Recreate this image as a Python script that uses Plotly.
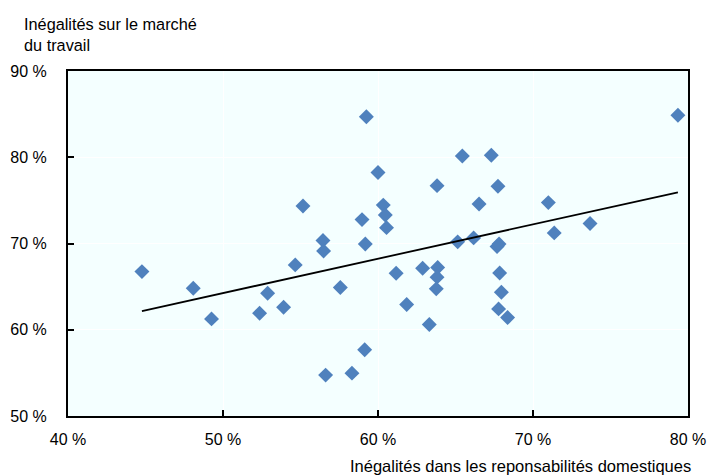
import numpy as np
import plotly.graph_objects as go

# Inégalités dans les responsabilités domestiques (%)
x_domestic = [44.77, 48.08, 49.26, 52.36, 52.88, 53.91, 54.66, 55.16, 56.45, 56.49,
              56.62, 57.57, 58.32, 58.97, 59.18, 59.25, 59.14, 60.00, 60.34, 60.47,
              60.55, 61.17, 61.85, 62.88, 63.31, 63.81, 63.85, 63.81, 63.76, 65.14,
              65.44, 66.17, 66.52, 67.31, 67.74, 67.68, 67.81, 67.85, 67.96, 67.78,
              68.36, 70.99, 71.37, 73.68, 79.35]
# Inégalités sur le marché du travail (%)
y_labour = [66.74, 64.82, 61.26, 61.92, 64.24, 62.62, 67.52, 74.36, 70.34, 69.14,
            54.74, 64.89, 54.97, 72.77, 69.95, 84.70, 57.67, 78.22, 74.45, 73.31,
            71.84, 66.54, 62.92, 67.14, 60.60, 76.71, 67.21, 66.10, 64.74, 70.19,
            80.15, 70.65, 74.59, 80.23, 76.64, 69.64, 69.95, 66.59, 64.36, 62.42,
            61.41, 74.74, 71.23, 72.31, 84.87]

x_ticks = [40, 50, 60, 70, 80]
y_ticks = [50, 60, 70, 80, 90]
x_ticklabels = ["40 %", "50 %", "60 %", "70 %", "80 %"]
y_ticklabels = ["50 %", "60 %", "70 %", "80 %", "90 %"]

y_title = "Inégalités sur le marché<br>du travail"
x_title = "Inégalités dans les reponsabilités domestiques"

FONT = "Liberation Sans, Arial, sans-serif"

xa = np.array(x_domestic)
ya = np.array(y_labour)
slope, intercept = np.polyfit(xa, ya, 1)
trend_x = [xa.min(), xa.max()]
trend_y = [slope * v + intercept for v in trend_x]

fig = go.Figure()
fig.add_trace(go.Scatter(
    x=x_domestic, y=y_labour, mode="markers",
    marker=dict(symbol="diamond", size=11.5, color="#4F81BD", line=dict(width=0)),
    showlegend=False, hoverinfo="x+y"))
fig.add_trace(go.Scatter(
    x=trend_x, y=trend_y, mode="lines",
    line=dict(color="black", width=1.8), showlegend=False, hoverinfo="skip"))

fig.update_layout(
    width=707, height=476,
    margin=dict(l=68, r=19, t=71, b=60, autoexpand=False),
    paper_bgcolor="white", plot_bgcolor="#F4FFFF",
    font=dict(family=FONT, size=16, color="#000000"),
    annotations=[
        dict(text=y_title, xref="paper", yref="paper", x=0, y=1,
             xshift=-46, yshift=58, xanchor="left", yanchor="top",
             align="left", showarrow=False,
             font=dict(family=FONT, size=16.3, color="#000000")),
        dict(text=x_title, xref="paper", yref="paper", x=1, y=0,
             xshift=5, yshift=-61, xanchor="right", yanchor="bottom",
             align="right", showarrow=False,
             font=dict(family=FONT, size=16.5, color="#000000")),
    ],
)
fig.update_xaxes(
    range=[40, 80.0001], tickvals=x_ticks, ticktext=x_ticklabels,
    showgrid=True, gridcolor="white", gridwidth=1.2,
    showline=True, linecolor="black", linewidth=2, mirror=True,
    ticks="inside", ticklen=6, tickcolor="black", tickwidth=1.5,
    ticklabelstandoff=8, automargin=False,
    zeroline=False, tickfont=dict(family=FONT, size=16, color="#000000"))
fig.update_yaxes(
    range=[50, 90.0001], tickvals=y_ticks, ticktext=y_ticklabels,
    showgrid=True, gridcolor="white", gridwidth=1.2,
    showline=True, linecolor="black", linewidth=2, mirror=True,
    ticks="inside", ticklen=6, tickcolor="black", tickwidth=1.5,
    ticklabelstandoff=16, automargin=False,
    zeroline=False, tickfont=dict(family=FONT, size=16, color="#000000"))

fig.write_html("out.html")
